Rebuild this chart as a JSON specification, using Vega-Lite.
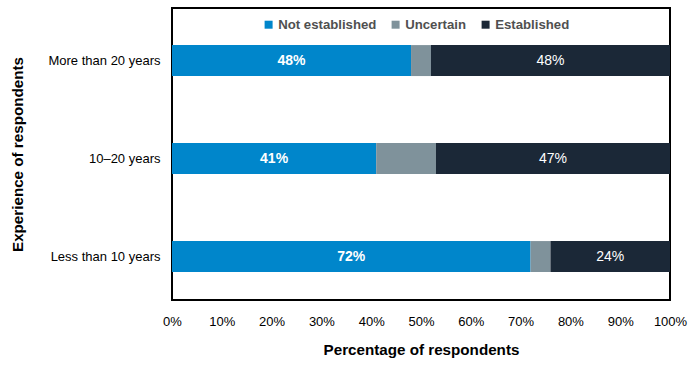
{
  "$schema": "https://vega.github.io/schema/vega-lite/v6.json",
  "width": 498,
  "height": 292,
  "autosize": {"type": "none"},
  "padding": {"left": 172, "top": 8, "right": 30, "bottom": 66},
  "background": "white",
  "config": {
    "font": "Liberation Sans",
    "view": {"stroke": "#000000", "strokeWidth": 2},
    "axis": {"grid": false, "ticks": false, "domain": false, "labelColor": "#000000", "titleColor": "#000000", "labelFontSize": 13, "titleFontSize": 15.2, "titleFontWeight": "bold"}
  },
  "data": {
    "values": [
      {"exp": "More than 20 years", "response": "Not established", "pct": 48},
      {"exp": "More than 20 years", "response": "Uncertain", "pct": 4},
      {"exp": "More than 20 years", "response": "Established", "pct": 48},
      {"exp": "10–20 years", "response": "Not established", "pct": 41},
      {"exp": "10–20 years", "response": "Uncertain", "pct": 12},
      {"exp": "10–20 years", "response": "Established", "pct": 47},
      {"exp": "Less than 10 years", "response": "Not established", "pct": 72},
      {"exp": "Less than 10 years", "response": "Uncertain", "pct": 4},
      {"exp": "Less than 10 years", "response": "Established", "pct": 24}
    ]
  },
  "transform": [
    {"calculate": "indexof(['Not established','Uncertain','Established'], datum.response)", "as": "k"},
    {"calculate": "datum.pct + '%'", "as": "lbl"}
  ],
  "encoding": {
    "y": {
      "field": "exp", "type": "nominal",
      "sort": ["More than 20 years", "10–20 years", "Less than 10 years"],
      "scale": {"paddingInner": 0.684, "paddingOuter": 0.332, "align": 0.57},
      "axis": {"title": "Experience of respondents", "labelPadding": 12, "titlePadding": 22}
    }
  },
  "layer": [
    {
      "mark": {"type": "bar"},
      "encoding": {
        "x": {
          "field": "pct", "type": "quantitative", "stack": "zero",
          "scale": {"domain": [0, 100]},
          "axis": {"title": "Percentage of respondents", "values": [0,10,20,30,40,50,60,70,80,90,100], "labelExpr": "datum.value + '%'", "labelPadding": 15, "titlePadding": 14, "labelFlush": false}
        },
        "order": {"field": "k", "type": "quantitative"},
        "color": {
          "field": "response", "type": "nominal",
          "scale": {"domain": ["Not established", "Uncertain", "Established"], "range": ["#0086CB", "#7F929B", "#1B2837"]},
          "legend": {
            "title": null, "orient": "none", "direction": "horizontal",
            "legendX": 90, "legendY": 10,
            "symbolType": "square", "symbolSize": 64, "symbolOpacity": 1,
            "labelFontSize": 13.2, "labelFontWeight": "bold", "labelColor": "#505050",
            "columnPadding": 12, "labelOffset": 3
          }
        }
      }
    },
    {
      "mark": {"type": "text", "color": "white", "fontSize": 14, "fontWeight": "bold", "baseline": "middle"},
      "encoding": {
        "x": {"field": "pct", "type": "quantitative", "stack": "zero", "bandPosition": 0.5},
        "text": {"condition": {"test": "datum.response == 'Not established'", "field": "lbl", "type": "nominal"}, "value": ""},
        "order": {"field": "k", "type": "quantitative"}
      }
    },
    {
      "mark": {"type": "text", "color": "white", "fontSize": 14, "baseline": "middle"},
      "encoding": {
        "x": {"field": "pct", "type": "quantitative", "stack": "zero", "bandPosition": 0.5},
        "text": {"condition": {"test": "datum.response == 'Established'", "field": "lbl", "type": "nominal"}, "value": ""},
        "order": {"field": "k", "type": "quantitative"}
      }
    }
  ]
}
